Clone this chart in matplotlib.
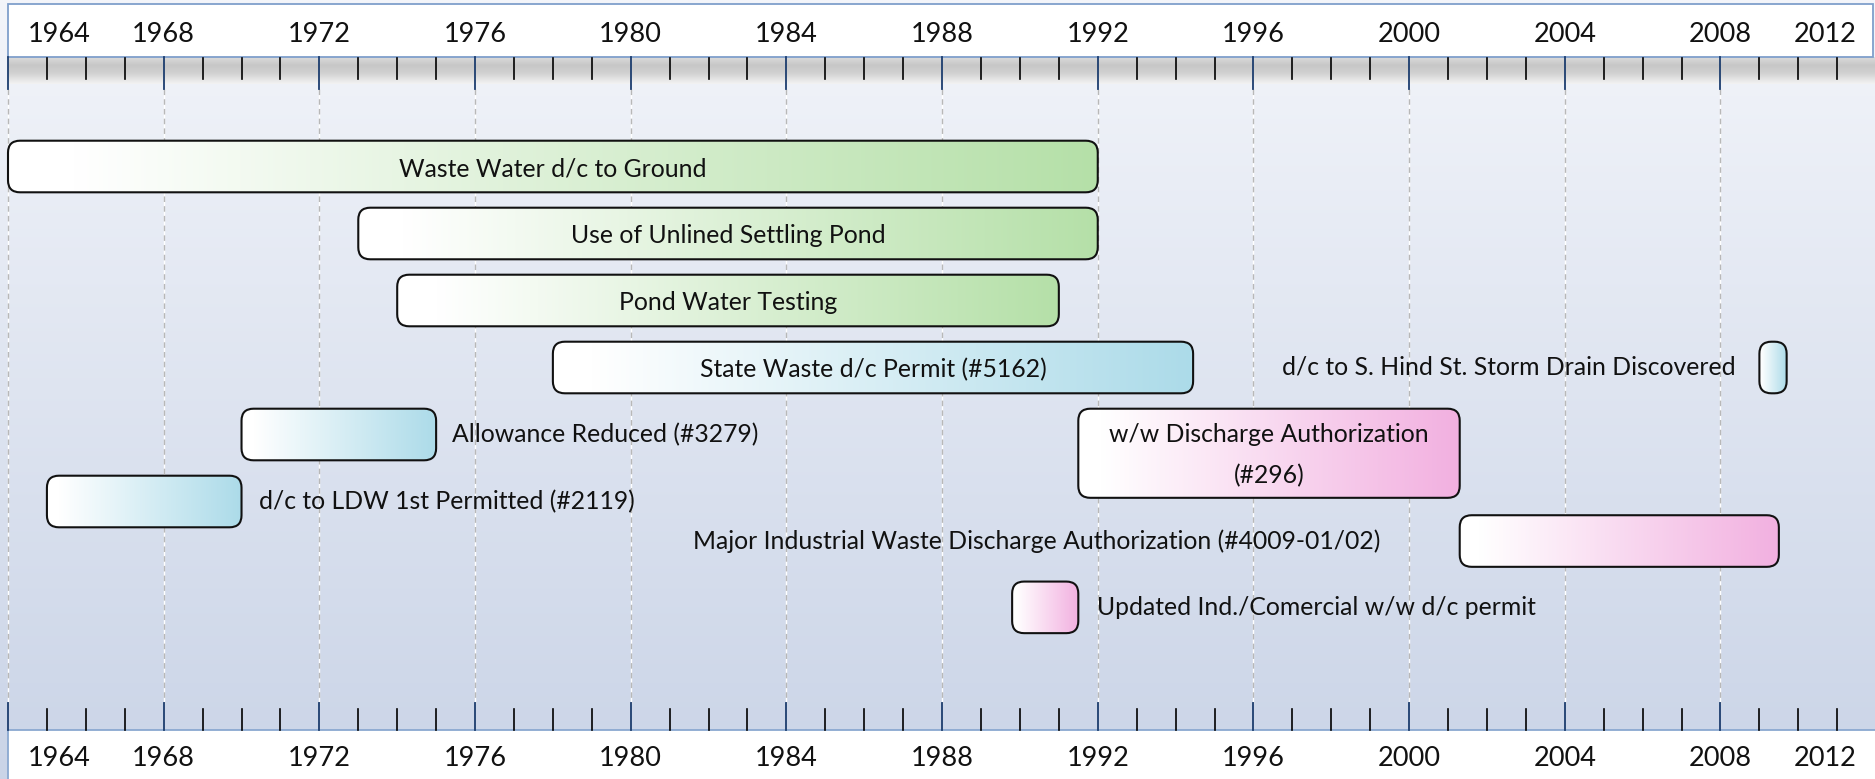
import numpy as np
import matplotlib
matplotlib.use("Agg")
import matplotlib.pyplot as plt
from matplotlib.patches import FancyBboxPatch, Rectangle
from matplotlib.colors import to_rgb

plt.rcParams['font.family'] = ['Lato', 'DejaVu Sans']

# ---- timeline data ----
labels = ["Waste Water d/c to Ground",
          "Use of Unlined Settling Pond",
          "Pond Water Testing",
          "State Waste d/c Permit (#5162)",
          "Allowance Reduced (#3279)",
          "d/c to LDW 1st Permitted (#2119)",
          "d/c to S. Hind St. Storm Drain Discovered",
          "w/w Discharge Authorization\n(#296)",
          "Major Industrial Waste Discharge Authorization (#4009-01/02)",
          "Updated Ind./Comercial w/w d/c permit"]
starts = [1964, 1973, 1974, 1978, 1970, 1965, 2009.0, 1991.5, 2001.3, 1989.8]
ends = [1992, 1992, 1991, 1994.45, 1975, 1970, 2009.7, 2001.3, 2009.5, 1991.5]
lanes = [0, 1, 2, 3, 4, 5, 3, 4.28, 5.59, 6.58]
groups = ["green", "green", "green", "blue", "blue", "blue", "blue", "pink", "pink", "pink"]
label_side = ["inside", "inside", "inside", "inside", "right", "right", "left", "inside", "left", "right"]

major_years = list(range(1964, 2013, 4))
minor_years = [y for y in range(1964, 2013) if y % 4]

# ---- layout / style ----
W, H = 1875, 779
PX_YR = 38.92        # pixels per year
PX_LANE = 67.0       # pixels per lane
X0 = 8               # pixel of 1964
LANE0 = 166.5        # pixel of lane 0 centre
bar_h = [0.77] * 7 + [1.33] + [0.77] * 2
label_gap = [0, 0, 0, 0, 16, 17, 24, 0, 79, 19]   # px between bar and outside label
end_colors = {"green": "#b5e0a8", "blue": "#acdbe9", "pink": "#f2b0e0"}
FS = 17.8


def yr(px):
    return 1964 + (px - X0) / PX_YR


def ln(px):
    return (px - LANE0) / PX_LANE


fig = plt.figure(figsize=(W / 100, H / 100), dpi=100)
ax = fig.add_axes([0, 0, 1, 1])
ax.set_axis_off()
xl = (yr(0), yr(W))
yl = (ln(H), ln(0))

# background gradient
top_c, bot_c = np.array(to_rgb("#f3f5fa")), np.array(to_rgb("#cad4e7"))
t = np.linspace(0, 1, 256)[:, None]
bg = (top_c * (1 - t) + bot_c * t)[:, None, :]
ax.imshow(bg, extent=(xl[0], xl[1], yl[0], yl[1]), aspect='auto', zorder=0,
          interpolation='bilinear')

# grey band under the header
tb = np.linspace(0, 1, 64)
v = np.interp(tb, [0, 0.3, 0.6, 0.9, 1], [0.86, 0.78, 0.82, 0.92, 0.95])
band = np.repeat(v[:, None, None], 3, axis=2)
ax.imshow(band, extent=(yr(X0), xl[1], ln(84), ln(57)), aspect='auto', zorder=1,
          interpolation='bilinear')

# header and footer boxes
ax.add_patch(Rectangle((yr(X0), ln(57)), yr(1873) - yr(X0), ln(4) - ln(57),
                       facecolor='white', edgecolor='#7f9fcb', lw=1.3, zorder=2))
ax.add_patch(Rectangle((yr(X0), ln(800)), yr(1900) - yr(X0), ln(730) - ln(800),
                       facecolor='white', edgecolor='#8aa8d0', lw=1.3, zorder=2))

# grid lines and ticks
for y in major_years:
    ax.plot([y, y], [ln(89), ln(703)], color='white', lw=1.0, zorder=1.5)
    ax.plot([y, y], [ln(89), ln(703)], color='#b8b8b8', lw=1.0, ls=(0, (4, 3)), zorder=1.6)
    ax.plot([y, y], [ln(57), ln(89)], color='#1c3d6e', lw=1.3, zorder=3)
    ax.plot([y, y], [ln(703), ln(730)], color='#1c3d6e', lw=1.3, zorder=3)
for y in minor_years:
    ax.plot([y, y], [ln(58), ln(79)], color='black', lw=1.2, zorder=3)
    ax.plot([y, y], [ln(709), ln(730)], color='black', lw=1.2, zorder=3)

# year labels, top and bottom
for i, y in enumerate(major_years):
    if i == 0:
        x, ha = yr(28), 'left'
    elif i == len(major_years) - 1:
        x, ha = yr(1857), 'right'
    else:
        x, ha = y, 'center'
    ax.text(x, ln(35), str(y), ha=ha, va='center', fontsize=19.5, color='#111111', zorder=4)
    ax.text(x, ln(759), str(y), ha=ha, va='center', fontsize=19.5, color='#111111', zorder=4)

# bars
aspect = (1 / PX_LANE) / (1 / PX_YR)
tg = np.linspace(0, 1, 256)
tg = np.clip((tg - 0.06) / 0.94, 0, 1)
for i in range(len(labels)):
    x0, x1 = starts[i], ends[i]
    h = bar_h[i]
    yc = lanes[i]
    r = min(12 / PX_YR, (x1 - x0) / 2)
    patch = FancyBboxPatch((x0, yc - h / 2), x1 - x0, h,
                           boxstyle=f"round,pad=0,rounding_size={r}",
                           mutation_aspect=aspect, facecolor='none',
                           edgecolor='#111111', lw=1.5, zorder=6)
    ax.add_patch(patch)
    c = np.array(to_rgb(end_colors[groups[i]]))
    grad = (np.ones(3) * (1 - tg[:, None]) + c * tg[:, None])[None, :, :]
    im = ax.imshow(grad, extent=(x0, x1, yc + h / 2, yc - h / 2), aspect='auto',
                   zorder=5, interpolation='bilinear')
    im.set_clip_path(patch)

    side = label_side[i]
    if side == "inside":
        ax.text((x0 + x1) / 2, yc + 0.03, labels[i], ha='center', va='center', fontsize=FS,
                color='#111111', zorder=7, linespacing=1.9)
    elif side == "right":
        ax.text(x1 + label_gap[i] / PX_YR, yc, labels[i], ha='left', va='center',
                fontsize=FS, color='#111111', zorder=7)
    else:
        ax.text(x0 - label_gap[i] / PX_YR, yc, labels[i], ha='right', va='center',
                fontsize=FS, color='#111111', zorder=7)

ax.set_xlim(*xl)
ax.set_ylim(*yl)
fig.savefig("out.png", dpi=100)
